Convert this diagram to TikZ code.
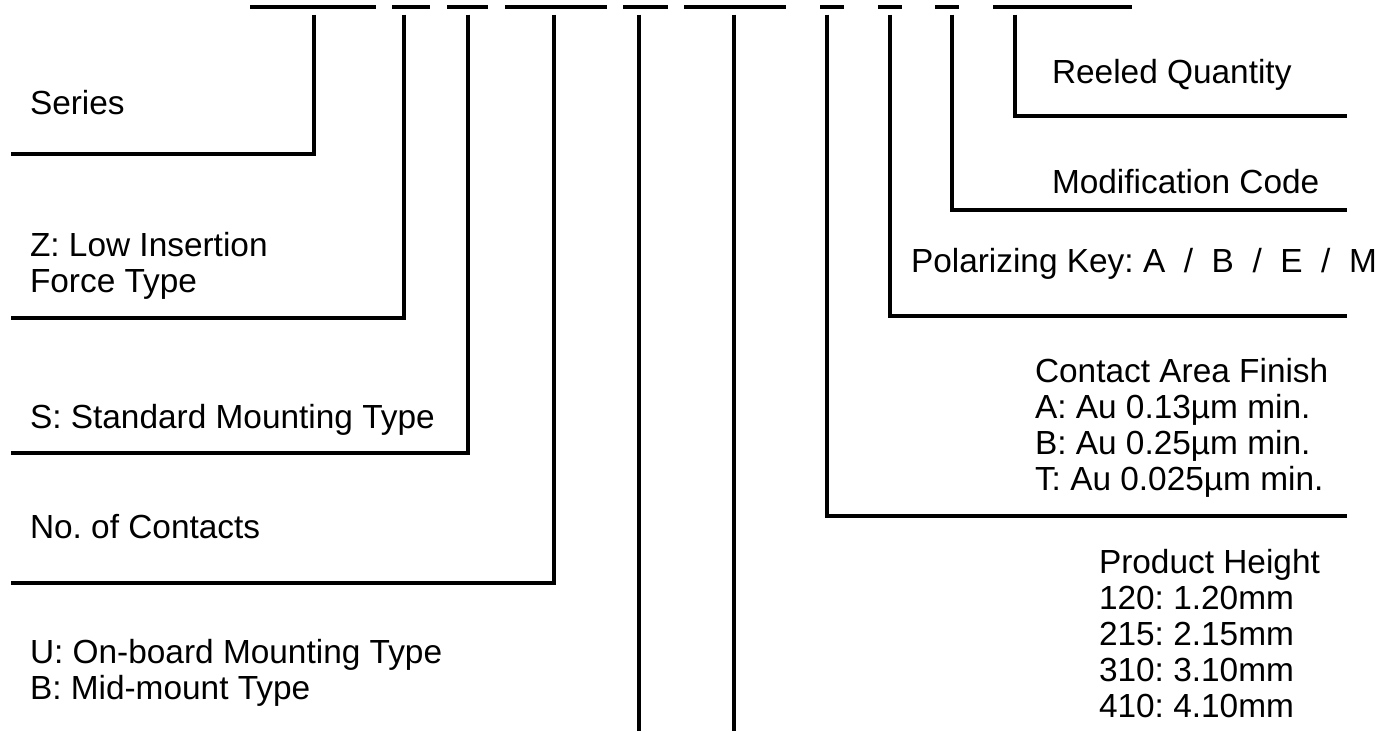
\documentclass[tikz,border=0pt]{standalone}
\usepackage{fontspec}
\setmainfont{Liberation Sans}
\frenchspacing
\tikzset{
  lbl/.style={inner sep=0pt, outer sep=0pt, font=\fontsize{33.4pt}{36pt}\selectfont\frenchspacing, align=left},
  lead/.style={line width=4.2pt, line join=miter},
  bar/.style={line width=4.2pt}
}
\begin{document}
\begin{tikzpicture}[x=1pt,y=-1pt]
\useasboundingbox (0,0) rectangle (1389,731);
% top bars
\foreach \a/\b [count=\i] in {250/376,392/430,447/488,505/607,623/668,684/786,820/844,878/902,935/959,993/1132}{
  \coordinate (bl\i) at (\a,6.7);
  \coordinate (br\i) at (\b,6.7);
  \draw[bar] (bl\i) -- (br\i);
}
% vertical tops
\foreach \x [count=\i] in {314,404,468,554,639,734,827,890,952,1015}{
  \coordinate (t\i) at (\x,14.5);
}
% labels
\node[lbl, anchor=base west] (series) at (30,114) {Series};
\node[lbl, anchor=north west] (zins) at (30,232) {Z: Low Insertion\\Force Type};
\node[lbl, anchor=base west] (smount) at (30,428) {S: Standard Mounting Type};
\node[lbl, anchor=base west] (ncont) at (30,538) {No. of Contacts};
\node[lbl, anchor=north west] (umount) at (30,639) {U: On-board Mounting Type\\B: Mid-mount Type};
\node[lbl, anchor=base west] (reel) at (1052,83) {Reeled Quantity};
\node[lbl, anchor=base west] (modc) at (1052,193) {Modification Code};
\node[lbl, anchor=base west] (pkey) at (911,272) {Polarizing Key: A\ \ /\ \ B\ \ /\ \ E\ \ /\ \ M};
\node[lbl, anchor=north west] (finish) at (1035,358) {Contact Area Finish\\A: Au 0.13µm min.\\B: Au 0.25µm min.\\T: Au 0.025µm min.};
\node[lbl, anchor=north west] (height) at (1099,549) {Product Height\\120: 1.20mm\\215: 2.15mm\\310: 3.10mm\\410: 4.10mm};
% end points
\coordinate (e1) at (11,154);
\coordinate (e2) at (11,318);
\coordinate (e3) at (11,453);
\coordinate (e4) at (11,583);
\coordinate (e5) at (639,731);
\coordinate (e6) at (734,731);
\coordinate (e7) at (1347,516);
\coordinate (e8) at (1347,316);
\coordinate (e9) at (1347,210);
\coordinate (e10) at (1347,116);
% leaders
\draw[lead] (t1) |- (e1);
\draw[lead] (t2) |- (e2);
\draw[lead] (t3) |- (e3);
\draw[lead] (t4) |- (e4);
\draw[lead] (t5) -- (e5);
\draw[lead] (t6) -- (e6);
\draw[lead] (t7) |- (e7);
\draw[lead] (t8) |- (e8);
\draw[lead] (t9) |- (e9);
\draw[lead] (t10) |- (e10);
\end{tikzpicture}
\end{document}
